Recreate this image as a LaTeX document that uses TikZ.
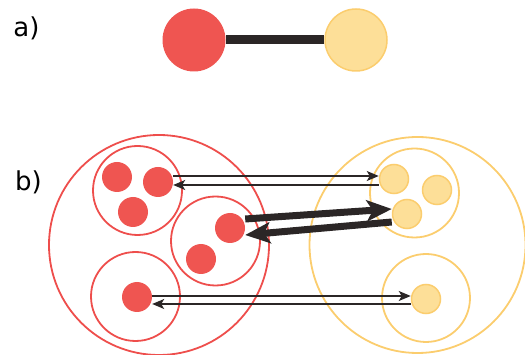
\documentclass[tikz,border=0pt]{standalone}
\usepackage{fontspec}
\setmainfont{DejaVu Sans}
\usetikzlibrary{arrows.meta}
\definecolor{redfill}{RGB}{239,85,81}
\definecolor{redline}{RGB}{238,78,76}
\definecolor{yelfill}{RGB}{253,223,152}
\definecolor{yelline}{RGB}{251,205,110}
\definecolor{barcol}{RGB}{43,38,38}
\tikzset{
  reddot/.style={circle,fill=redfill,draw=none,minimum size=30pt,inner sep=0pt},
  yeldot/.style={circle,fill=yelfill,draw=yelline,line width=1.5pt,minimum size=29pt,inner sep=0pt},
  redbig/.style={circle,draw=redline,line width=1.8pt,fill=none,minimum size=#1,inner sep=0pt},
  yelbig/.style={circle,draw=yelline,line width=1.8pt,fill=none,minimum size=#1,inner sep=0pt},
  thinarrow/.style={draw=barcol,line width=1.4pt,-{Stealth[length=12pt,width=10pt,inset=3pt]}},
  thickarrow/.style={draw=barcol,line width=7pt,-{Stealth[length=25pt,width=21pt,inset=6pt]}},
  lab/.style={font=\fontsize{26}{29}\selectfont,text=black,inner sep=0pt}
}
\begin{document}
\begin{tikzpicture}[x=1pt,y=-1pt]
\useasboundingbox (0,0) rectangle (525,355);

% part a: two atoms joined by a bond
\node[lab] (la) at (26.5,28) {a)};
\node[circle,fill=redfill,minimum size=63pt,inner sep=0pt] (ra) at (194,40) {};
\node[circle,fill=yelfill,draw=yelline,line width=1.5pt,minimum size=62pt,inner sep=0pt] (ya) at (356,40) {};
\draw[barcol,line width=9pt] (ra.east) -- (ya.west);

% part b: nested groups
\node[lab] (lb) at (28.5,182.5) {b)};

\node[redbig=220pt] (R) at (159,245) {};
\node[redbig=89pt] (R1) at (137.5,190.5) {};
\node[redbig=89pt] (R2) at (215.5,241) {};
\node[redbig=89pt] (R3) at (135.5,296.5) {};
\node[reddot] (r11) at (117,177) {};
\node[reddot] (r12) at (158,182) {};
\node[reddot] (r13) at (133,212) {};
\node[reddot] (r21) at (230,228) {};
\node[reddot] (r22) at (201,259) {};
\node[reddot] (r31) at (137,297) {};

\node[yelbig=216pt] (Y) at (417.5,245) {};
\node[yelbig=89pt] (Y1) at (414.5,193) {};
\node[yelbig=88pt] (Y2) at (426,298) {};
\node[yeldot] (y11) at (394,179) {};
\node[yeldot] (y12) at (437,190) {};
\node[yeldot] (y13) at (407,214) {};
\node[yeldot] (y21) at (426,299) {};

% links between groups
\draw[thinarrow] ([yshift=6]r12.east) -- ([yshift=6]r12.east -| y11.west);
\draw[thinarrow] ([yshift=-3]r12.east -| y11.west) -- ([yshift=-3]r12.east);
\draw[thinarrow] ([yshift=1]r31.east) -- ([yshift=1]r31.east -| y21.west);
\draw[thinarrow] ([yshift=-7]r31.east -| y21.west) -- ([yshift=-7]r31.east);

\draw[thickarrow] ([yshift=9]r21.east) -- ([yshift=5]y13.west);
\draw[thickarrow] ([yshift=-8]y13.west) -- ([yshift=-7]r21.east);
\end{tikzpicture}
\end{document}
